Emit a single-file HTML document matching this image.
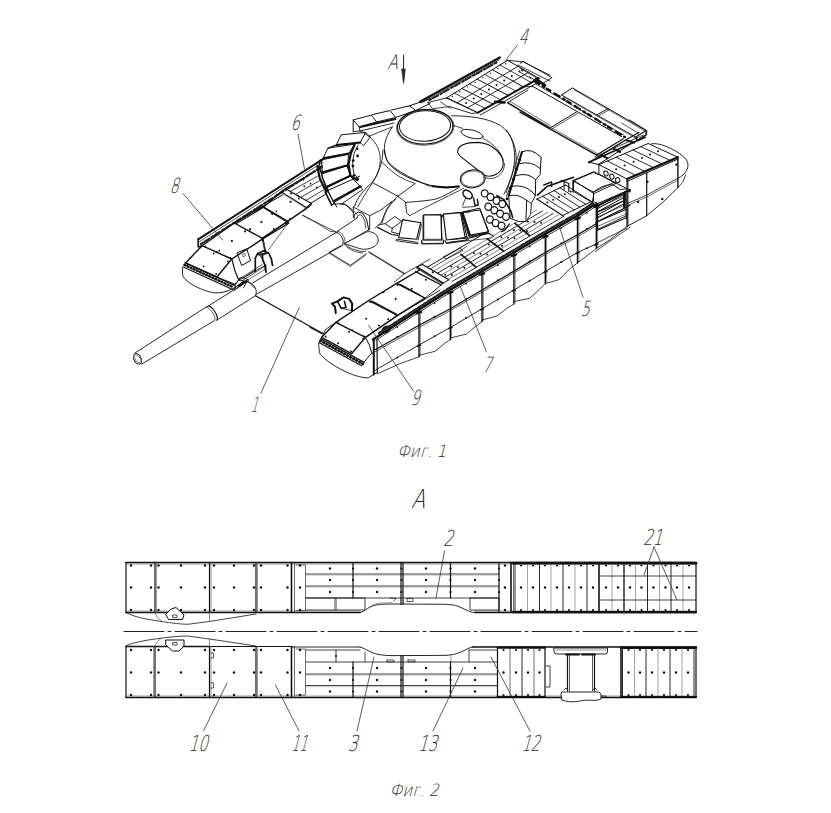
<!DOCTYPE html>
<html><head><meta charset="utf-8"><title>Фиг. 1, Фиг. 2</title>
<style>
html,body{margin:0;padding:0;background:#fff;}
body{width:831px;height:813px;overflow:hidden;}
svg{display:block;}
svg text{font-family:"DejaVu Sans","Liberation Sans",sans-serif;font-weight:200;font-style:normal;}
</style></head><body>
<svg width="831" height="813" viewBox="0 0 831 813" stroke-linecap="round" stroke-linejoin="round">
<rect x="0" y="0" width="831" height="813" fill="#fff"/>
<line x1="124" y1="631.5" x2="697" y2="631.5" stroke="#222" stroke-width="1" stroke-dasharray="40 4 3 4"/>
<polyline points="126,562.5 696,562.5" fill="none" stroke="#111" stroke-width="1.6"/>
<polyline points="126,612.5 360,612.5" fill="none" stroke="#111" stroke-width="1.6"/>
<polyline points="475,612.5 696,612.5" fill="none" stroke="#111" stroke-width="1.6"/>
<polyline points="126,562.5 126,612.5" fill="none" stroke="#111" stroke-width="1.2"/>
<polyline points="696,562.5 696,612.5" fill="none" stroke="#111" stroke-width="1.2"/>
<polyline points="127,564 695,564" fill="none" stroke="#555" stroke-width="0.6"/>
<polyline points="127,611 360,611" fill="none" stroke="#555" stroke-width="0.6"/>
<polyline points="475,611 695,611" fill="none" stroke="#555" stroke-width="0.6"/>
<polyline points="155,562.5 155,612.5" fill="none" stroke="#111" stroke-width="1.2"/>
<polyline points="209.5,562.5 209.5,612.5" fill="none" stroke="#111" stroke-width="1.2"/>
<polyline points="256,562.5 256,612.5" fill="none" stroke="#111" stroke-width="1.2"/>
<polyline points="156.5,562.5 156.5,612.5" fill="none" stroke="#555" stroke-width="0.6"/>
<polyline points="211,562.5 211,612.5" fill="none" stroke="#555" stroke-width="0.6"/>
<polyline points="257.5,562.5 257.5,612.5" fill="none" stroke="#555" stroke-width="0.6"/>
<polyline points="291.5,562.5 291.5,612.5" fill="none" stroke="#111" stroke-width="1.6"/>
<polyline points="294.5,562.5 294.5,612.5" fill="none" stroke="#111" stroke-width="0.6"/>
<polyline points="296,565 305.5,565 305.5,610.5 296,610.5" fill="none" stroke="#111" stroke-width="0.6"/>
<circle cx="131" cy="565.5" r="1.2" fill="#111"/>
<circle cx="151" cy="565.5" r="1.2" fill="#111"/>
<circle cx="158.5" cy="565.5" r="1.2" fill="#111"/>
<circle cx="181" cy="565.5" r="1.2" fill="#111"/>
<circle cx="205" cy="565.5" r="1.2" fill="#111"/>
<circle cx="214" cy="565.5" r="1.2" fill="#111"/>
<circle cx="234" cy="565.5" r="1.2" fill="#111"/>
<circle cx="254" cy="565.5" r="1.2" fill="#111"/>
<circle cx="261" cy="565.5" r="1.2" fill="#111"/>
<circle cx="287.5" cy="565.5" r="1.2" fill="#111"/>
<circle cx="300" cy="565.5" r="1.2" fill="#111"/>
<circle cx="131" cy="587.5" r="1.2" fill="#111"/>
<circle cx="151" cy="587.5" r="1.2" fill="#111"/>
<circle cx="158.5" cy="587.5" r="1.2" fill="#111"/>
<circle cx="181" cy="587.5" r="1.2" fill="#111"/>
<circle cx="205" cy="587.5" r="1.2" fill="#111"/>
<circle cx="214" cy="587.5" r="1.2" fill="#111"/>
<circle cx="234" cy="587.5" r="1.2" fill="#111"/>
<circle cx="254" cy="587.5" r="1.2" fill="#111"/>
<circle cx="261" cy="587.5" r="1.2" fill="#111"/>
<circle cx="287.5" cy="587.5" r="1.2" fill="#111"/>
<circle cx="300" cy="587.5" r="1.2" fill="#111"/>
<circle cx="131" cy="610" r="1.2" fill="#111"/>
<circle cx="151" cy="610" r="1.2" fill="#111"/>
<circle cx="158.5" cy="610" r="1.2" fill="#111"/>
<circle cx="181" cy="610" r="1.2" fill="#111"/>
<circle cx="205" cy="610" r="1.2" fill="#111"/>
<circle cx="214" cy="610" r="1.2" fill="#111"/>
<circle cx="234" cy="610" r="1.2" fill="#111"/>
<circle cx="254" cy="610" r="1.2" fill="#111"/>
<circle cx="261" cy="610" r="1.2" fill="#111"/>
<circle cx="287.5" cy="610" r="1.2" fill="#111"/>
<circle cx="300" cy="610" r="1.2" fill="#111"/>
<polyline points="306,574 499,574" fill="none" stroke="#111" stroke-width="0.8"/>
<polyline points="306,586 499,586" fill="none" stroke="#111" stroke-width="0.8"/>
<polyline points="306,598 499,598" fill="none" stroke="#111" stroke-width="0.8"/>
<polyline points="306,575.2 499,575.2" fill="none" stroke="#888" stroke-width="0.5"/>
<polyline points="306,587.2 499,587.2" fill="none" stroke="#888" stroke-width="0.5"/>
<polyline points="353,562.5 353,598" fill="none" stroke="#111" stroke-width="1.2"/>
<polyline points="450.5,562.5 450.5,598" fill="none" stroke="#111" stroke-width="1.2"/>
<polyline points="401,562.5 401,604.5" fill="none" stroke="#111" stroke-width="1.2"/>
<polyline points="403,562.5 403,604.5" fill="none" stroke="#111" stroke-width="1.2"/>
<circle cx="330" cy="568.5" r="1.2" fill="#111"/>
<circle cx="330" cy="580" r="1.2" fill="#111"/>
<circle cx="330" cy="592" r="1.2" fill="#111"/>
<circle cx="377" cy="568.5" r="1.2" fill="#111"/>
<circle cx="377" cy="580" r="1.2" fill="#111"/>
<circle cx="377" cy="592" r="1.2" fill="#111"/>
<circle cx="426" cy="568.5" r="1.2" fill="#111"/>
<circle cx="426" cy="580" r="1.2" fill="#111"/>
<circle cx="426" cy="592" r="1.2" fill="#111"/>
<circle cx="475" cy="568.5" r="1.2" fill="#111"/>
<circle cx="475" cy="580" r="1.2" fill="#111"/>
<circle cx="475" cy="592" r="1.2" fill="#111"/>
<circle cx="353" cy="568.5" r="1.1" fill="#111"/>
<circle cx="353" cy="580" r="1.1" fill="#111"/>
<circle cx="353" cy="592" r="1.1" fill="#111"/>
<circle cx="401.5" cy="568.5" r="1.1" fill="#111"/>
<circle cx="401.5" cy="580" r="1.1" fill="#111"/>
<circle cx="401.5" cy="592" r="1.1" fill="#111"/>
<circle cx="450.5" cy="568.5" r="1.1" fill="#111"/>
<circle cx="450.5" cy="580" r="1.1" fill="#111"/>
<circle cx="450.5" cy="592" r="1.1" fill="#111"/>
<circle cx="499" cy="568.5" r="1.1" fill="#111"/>
<circle cx="499" cy="580" r="1.1" fill="#111"/>
<circle cx="499" cy="592" r="1.1" fill="#111"/>
<polyline points="306,598 365,598 365,610 306,610" fill="none" stroke="#111" stroke-width="0.8"/>
<polyline points="335,598 335,610" fill="none" stroke="#111" stroke-width="0.8"/>
<polyline points="336.5,598 336.5,610" fill="none" stroke="#555" stroke-width="0.6"/>
<polyline points="470,598 499,598 499,610 470,610 470,598" fill="none" stroke="#111" stroke-width="0.8"/>
<path d="M360,612.5 C366,611 368,606.5 376,605 C382,604 388,604 395,604 L445,604.3 C454,604.5 458,606 463,608.5 C468,611 471,612.5 475,612.5" fill="none" stroke="#111" stroke-width="0.9"/>
<path d="M365,610 C369,608 372,604 380,603 L392,602.7" fill="none" stroke="#555" stroke-width="0.6"/>
<polyline points="407,598.5 413,598.5 413,601.5 407,601.5 407,598.5" fill="none" stroke="#111" stroke-width="0.7"/>
<polyline points="390,598 396,598.5 394,601" fill="none" stroke="#111" stroke-width="0.7"/>
<polyline points="499,562.5 499,612.5" fill="none" stroke="#111" stroke-width="1.2"/>
<polyline points="511,562.5 511,612.5" fill="none" stroke="#111" stroke-width="1.6"/>
<polyline points="513.5,562.5 513.5,612.5" fill="none" stroke="#111" stroke-width="0.6"/>
<circle cx="505" cy="565.5" r="1.2" fill="#111"/>
<circle cx="505" cy="587.5" r="1.2" fill="#111"/>
<circle cx="505" cy="610" r="1.2" fill="#111"/>
<polyline points="515,564 515,611" fill="none" stroke="#111" stroke-width="0.9"/>
<polyline points="527.5,564 527.5,611" fill="none" stroke="#666" stroke-width="0.6"/>
<polyline points="539.5,564 539.5,611" fill="none" stroke="#111" stroke-width="0.9"/>
<polyline points="551,564 551,611" fill="none" stroke="#666" stroke-width="0.6"/>
<polyline points="563,564 563,611" fill="none" stroke="#111" stroke-width="0.9"/>
<polyline points="575,564 575,611" fill="none" stroke="#666" stroke-width="0.6"/>
<polyline points="587,564 587,611" fill="none" stroke="#111" stroke-width="0.9"/>
<polyline points="599,562.5 599,612.5" fill="none" stroke="#111" stroke-width="1.6"/>
<polyline points="513,563.2 696,563.2" fill="none" stroke="#111" stroke-width="2.8"/>
<polyline points="513,612.2 696,612.2" fill="none" stroke="#111" stroke-width="2.2"/>
<circle cx="521" cy="565.5" r="1.1" fill="#111"/>
<circle cx="521" cy="587.5" r="1.2" fill="#111"/>
<circle cx="521" cy="610" r="1.1" fill="#111"/>
<circle cx="533" cy="565.5" r="1.1" fill="#111"/>
<circle cx="533" cy="587.5" r="1.2" fill="#111"/>
<circle cx="533" cy="610" r="1.1" fill="#111"/>
<circle cx="545" cy="565.5" r="1.1" fill="#111"/>
<circle cx="545" cy="587.5" r="1.2" fill="#111"/>
<circle cx="545" cy="610" r="1.1" fill="#111"/>
<circle cx="557" cy="565.5" r="1.1" fill="#111"/>
<circle cx="557" cy="587.5" r="1.2" fill="#111"/>
<circle cx="557" cy="610" r="1.1" fill="#111"/>
<circle cx="569" cy="565.5" r="1.1" fill="#111"/>
<circle cx="569" cy="587.5" r="1.2" fill="#111"/>
<circle cx="569" cy="610" r="1.1" fill="#111"/>
<circle cx="581" cy="565.5" r="1.1" fill="#111"/>
<circle cx="581" cy="587.5" r="1.2" fill="#111"/>
<circle cx="581" cy="610" r="1.1" fill="#111"/>
<circle cx="593" cy="565.5" r="1.1" fill="#111"/>
<circle cx="593" cy="587.5" r="1.2" fill="#111"/>
<circle cx="593" cy="610" r="1.1" fill="#111"/>
<polyline points="612,564 612,611" fill="none" stroke="#666" stroke-width="0.6"/>
<polyline points="624,564 624,611" fill="none" stroke="#111" stroke-width="1.3"/>
<polyline points="635.5,564 635.5,611" fill="none" stroke="#666" stroke-width="0.6"/>
<polyline points="647.5,564 647.5,611" fill="none" stroke="#111" stroke-width="0.9"/>
<polyline points="659.5,564 659.5,611" fill="none" stroke="#666" stroke-width="0.6"/>
<polyline points="671,564 671,611" fill="none" stroke="#111" stroke-width="0.9"/>
<polyline points="683,564 683,611" fill="none" stroke="#666" stroke-width="0.6"/>
<polyline points="600,576 696,576" fill="none" stroke="#111" stroke-width="0.8"/>
<polyline points="600,600 696,600" fill="none" stroke="#111" stroke-width="0.8"/>
<circle cx="606" cy="565.5" r="1.1" fill="#111"/>
<circle cx="606" cy="587.5" r="1.2" fill="#111"/>
<circle cx="606" cy="610" r="1.1" fill="#111"/>
<circle cx="618" cy="565.5" r="1.1" fill="#111"/>
<circle cx="618" cy="587.5" r="1.2" fill="#111"/>
<circle cx="618" cy="610" r="1.1" fill="#111"/>
<circle cx="630" cy="565.5" r="1.1" fill="#111"/>
<circle cx="630" cy="587.5" r="1.2" fill="#111"/>
<circle cx="630" cy="610" r="1.1" fill="#111"/>
<circle cx="641.5" cy="565.5" r="1.1" fill="#111"/>
<circle cx="641.5" cy="587.5" r="1.2" fill="#111"/>
<circle cx="641.5" cy="610" r="1.1" fill="#111"/>
<circle cx="653.5" cy="565.5" r="1.1" fill="#111"/>
<circle cx="653.5" cy="587.5" r="1.2" fill="#111"/>
<circle cx="653.5" cy="610" r="1.1" fill="#111"/>
<circle cx="665.5" cy="565.5" r="1.1" fill="#111"/>
<circle cx="665.5" cy="587.5" r="1.2" fill="#111"/>
<circle cx="665.5" cy="610" r="1.1" fill="#111"/>
<circle cx="677" cy="565.5" r="1.1" fill="#111"/>
<circle cx="677" cy="587.5" r="1.2" fill="#111"/>
<circle cx="677" cy="610" r="1.1" fill="#111"/>
<circle cx="689" cy="565.5" r="1.1" fill="#111"/>
<circle cx="689" cy="587.5" r="1.2" fill="#111"/>
<circle cx="689" cy="610" r="1.1" fill="#111"/>
<path d="M126,612.5 C132,616 142,618.5 155,620.5 C168,622.5 178,624 187.5,624.3 L209.5,621.5 L256,614" fill="none" stroke="#111" stroke-width="0.8"/>
<path d="M155,612.5 C156,616 158,619 161.5,621" fill="none" stroke="#555" stroke-width="0.7"/>
<polyline points="209.5,612.5 209.5,621.5" fill="none" stroke="#555" stroke-width="0.7"/>
<polygon points="166,614 171,609 176,607.5 184,615 182.5,619.5 169,619.5" fill="#fff" stroke="#111" stroke-width="1"/>
<polygon points="173,615 177,615 177,617.5 173,617.5" fill="none" stroke="#111" stroke-width="0.7"/>
<polyline points="126,646.5 209.5,646.5" fill="none" stroke="#111" stroke-width="1.6"/>
<polyline points="209.5,646.5 292,646.5" fill="none" stroke="#111" stroke-width="1.2"/>
<polyline points="292,647 360,647" fill="none" stroke="#111" stroke-width="0.9"/>
<polyline points="472.5,647 696,647" fill="none" stroke="#111" stroke-width="1.6"/>
<polyline points="126,697.5 696,697.5" fill="none" stroke="#111" stroke-width="1.6"/>
<polyline points="126,646.5 126,697.5" fill="none" stroke="#111" stroke-width="1.2"/>
<polyline points="696,646.5 696,697.5" fill="none" stroke="#111" stroke-width="1.2"/>
<polyline points="127,696 695,696" fill="none" stroke="#555" stroke-width="0.6"/>
<polyline points="155,646.5 155,697.5" fill="none" stroke="#111" stroke-width="1.2"/>
<polyline points="209.5,646.5 209.5,697.5" fill="none" stroke="#111" stroke-width="1.2"/>
<polyline points="256,646.5 256,697.5" fill="none" stroke="#111" stroke-width="1.2"/>
<polyline points="153.5,646.5 153.5,697.5" fill="none" stroke="#555" stroke-width="0.6"/>
<polyline points="211,646.5 211,697.5" fill="none" stroke="#555" stroke-width="0.6"/>
<polyline points="257.5,646.5 257.5,697.5" fill="none" stroke="#555" stroke-width="0.6"/>
<polyline points="291.5,646.5 291.5,697.5" fill="none" stroke="#111" stroke-width="1.6"/>
<polyline points="294.5,646.5 294.5,697.5" fill="none" stroke="#111" stroke-width="0.6"/>
<polyline points="296,649 305.5,649 305.5,695 296,695" fill="none" stroke="#111" stroke-width="0.6"/>
<circle cx="131" cy="650" r="1.2" fill="#111"/>
<circle cx="151" cy="650" r="1.2" fill="#111"/>
<circle cx="158.5" cy="650" r="1.2" fill="#111"/>
<circle cx="205" cy="650" r="1.2" fill="#111"/>
<circle cx="214" cy="650" r="1.2" fill="#111"/>
<circle cx="234" cy="650" r="1.2" fill="#111"/>
<circle cx="254" cy="650" r="1.2" fill="#111"/>
<circle cx="261" cy="650" r="1.2" fill="#111"/>
<circle cx="287.5" cy="650" r="1.2" fill="#111"/>
<circle cx="300" cy="650" r="1.2" fill="#111"/>
<circle cx="131" cy="672.5" r="1.2" fill="#111"/>
<circle cx="151" cy="672.5" r="1.2" fill="#111"/>
<circle cx="158.5" cy="672.5" r="1.2" fill="#111"/>
<circle cx="181" cy="672.5" r="1.2" fill="#111"/>
<circle cx="205" cy="672.5" r="1.2" fill="#111"/>
<circle cx="214" cy="672.5" r="1.2" fill="#111"/>
<circle cx="234" cy="672.5" r="1.2" fill="#111"/>
<circle cx="254" cy="672.5" r="1.2" fill="#111"/>
<circle cx="261" cy="672.5" r="1.2" fill="#111"/>
<circle cx="287.5" cy="672.5" r="1.2" fill="#111"/>
<circle cx="300" cy="672.5" r="1.2" fill="#111"/>
<circle cx="131" cy="695" r="1.2" fill="#111"/>
<circle cx="151" cy="695" r="1.2" fill="#111"/>
<circle cx="158.5" cy="695" r="1.2" fill="#111"/>
<circle cx="181" cy="695" r="1.2" fill="#111"/>
<circle cx="205" cy="695" r="1.2" fill="#111"/>
<circle cx="214" cy="695" r="1.2" fill="#111"/>
<circle cx="234" cy="695" r="1.2" fill="#111"/>
<circle cx="254" cy="695" r="1.2" fill="#111"/>
<circle cx="261" cy="695" r="1.2" fill="#111"/>
<circle cx="287.5" cy="695" r="1.2" fill="#111"/>
<circle cx="300" cy="695" r="1.2" fill="#111"/>
<polyline points="211,653 213.5,653 213.5,658 211,658" fill="none" stroke="#111" stroke-width="0.7"/>
<polyline points="211,683 213.5,683 213.5,688 211,688" fill="none" stroke="#111" stroke-width="0.7"/>
<polyline points="306,650 360,650" fill="none" stroke="#111" stroke-width="0.8"/>
<polyline points="306,662 497.5,662" fill="none" stroke="#111" stroke-width="0.8"/>
<polyline points="306,674 497.5,674" fill="none" stroke="#111" stroke-width="0.8"/>
<polyline points="306,685.5 497.5,685.5" fill="none" stroke="#111" stroke-width="0.8"/>
<polyline points="306,675.2 497.5,675.2" fill="none" stroke="#888" stroke-width="0.5"/>
<polyline points="306,686.7 497.5,686.7" fill="none" stroke="#888" stroke-width="0.5"/>
<polyline points="353,662 353,697.5" fill="none" stroke="#111" stroke-width="1.2"/>
<polyline points="450.5,662 450.5,697.5" fill="none" stroke="#111" stroke-width="1.2"/>
<polyline points="401,655.5 401,697.5" fill="none" stroke="#111" stroke-width="1.2"/>
<polyline points="403,655.5 403,697.5" fill="none" stroke="#111" stroke-width="1.2"/>
<polyline points="336,650 336,662" fill="none" stroke="#111" stroke-width="0.8"/>
<polyline points="365,652 365,662" fill="none" stroke="#111" stroke-width="0.7"/>
<circle cx="336" cy="656" r="1.1" fill="#111"/>
<circle cx="330" cy="668" r="1.2" fill="#111"/>
<circle cx="330" cy="680" r="1.2" fill="#111"/>
<circle cx="330" cy="691.5" r="1.2" fill="#111"/>
<circle cx="377" cy="668" r="1.2" fill="#111"/>
<circle cx="377" cy="680" r="1.2" fill="#111"/>
<circle cx="377" cy="691.5" r="1.2" fill="#111"/>
<circle cx="426" cy="668" r="1.2" fill="#111"/>
<circle cx="426" cy="680" r="1.2" fill="#111"/>
<circle cx="426" cy="691.5" r="1.2" fill="#111"/>
<circle cx="475" cy="668" r="1.2" fill="#111"/>
<circle cx="475" cy="680" r="1.2" fill="#111"/>
<circle cx="475" cy="691.5" r="1.2" fill="#111"/>
<circle cx="353" cy="668" r="1.1" fill="#111"/>
<circle cx="353" cy="680" r="1.1" fill="#111"/>
<circle cx="353" cy="691.5" r="1.1" fill="#111"/>
<circle cx="401.5" cy="668" r="1.1" fill="#111"/>
<circle cx="401.5" cy="680" r="1.1" fill="#111"/>
<circle cx="401.5" cy="691.5" r="1.1" fill="#111"/>
<circle cx="450.5" cy="668" r="1.1" fill="#111"/>
<circle cx="450.5" cy="680" r="1.1" fill="#111"/>
<circle cx="450.5" cy="691.5" r="1.1" fill="#111"/>
<path d="M360,647 C364,648 367,650.5 372,652.5 C378,655 384,655.5 392,655.6 L445,655.4 C454,655 459,653 464,650.5 C467,648.8 470,647.5 472.5,647" fill="none" stroke="#111" stroke-width="0.9"/>
<polyline points="387,660 394,660 394,662 387,662 387,660" fill="none" stroke="#111" stroke-width="0.7"/>
<polyline points="408,660 415,660 415,662 408,662 408,660" fill="none" stroke="#111" stroke-width="0.7"/>
<polyline points="469,650 497.5,650" fill="none" stroke="#111" stroke-width="0.8"/>
<polyline points="469,650 469,662" fill="none" stroke="#111" stroke-width="0.8"/>
<polyline points="451,662 451,655" fill="none" stroke="#555" stroke-width="0.6"/>
<polyline points="497.5,647 497.5,697.5" fill="none" stroke="#111" stroke-width="1.2"/>
<polyline points="510,647 510,697.5" fill="none" stroke="#111" stroke-width="0.6"/>
<polyline points="522,647 522,697.5" fill="none" stroke="#111" stroke-width="0.9"/>
<polyline points="534,647 534,697.5" fill="none" stroke="#111" stroke-width="0.6"/>
<polyline points="545,647 545,697.5" fill="none" stroke="#111" stroke-width="1.2"/>
<circle cx="503.5" cy="650" r="1.1" fill="#111"/>
<circle cx="503.5" cy="672.5" r="1.2" fill="#111"/>
<circle cx="503.5" cy="695" r="1.1" fill="#111"/>
<circle cx="516" cy="650" r="1.1" fill="#111"/>
<circle cx="516" cy="672.5" r="1.2" fill="#111"/>
<circle cx="516" cy="695" r="1.1" fill="#111"/>
<circle cx="528" cy="650" r="1.1" fill="#111"/>
<circle cx="528" cy="672.5" r="1.2" fill="#111"/>
<circle cx="528" cy="695" r="1.1" fill="#111"/>
<circle cx="539.5" cy="650" r="1.1" fill="#111"/>
<circle cx="539.5" cy="672.5" r="1.2" fill="#111"/>
<circle cx="539.5" cy="695" r="1.1" fill="#111"/>
<polyline points="546,666 550,666 550,687 546,687" fill="none" stroke="#111" stroke-width="0.8"/>
<path d="M554,648 L607.5,648 L607.5,652 Q607.5,654 605,654 L557,654 Q554,654 554,652 Z" fill="none" stroke="#111" stroke-width="0.9"/>
<polyline points="556,650 606,650" fill="none" stroke="#555" stroke-width="0.6"/>
<polyline points="566,654.5 579,654.5" fill="none" stroke="#111" stroke-width="1.8"/>
<polyline points="582,654.5 595,654.5" fill="none" stroke="#111" stroke-width="1.8"/>
<polyline points="567.5,655 567.5,691" fill="none" stroke="#111" stroke-width="1.2"/>
<polyline points="569.5,655 569.5,691" fill="none" stroke="#111" stroke-width="0.7"/>
<polyline points="592.5,655 592.5,691" fill="none" stroke="#111" stroke-width="0.7"/>
<polyline points="594.5,655 594.5,691" fill="none" stroke="#111" stroke-width="1.2"/>
<path d="M562,692 L599,692 L601,694 L601,699 C596,701.5 590,699.5 583,700.5 C576,702 568,702.5 562,700 L561,695 Z" fill="#fff" stroke="#111" stroke-width="0.9"/>
<polyline points="564,690 566,688 568,690" fill="none" stroke="#111" stroke-width="0.8"/>
<polyline points="593,690 595,688 597,690" fill="none" stroke="#111" stroke-width="0.8"/>
<polyline points="601,696 606,696 606,697.5" fill="none" stroke="#111" stroke-width="0.8"/>
<polyline points="497.5,647.6 545,647.6" fill="none" stroke="#111" stroke-width="2.2"/>
<polyline points="621,647.8 696,647.8" fill="none" stroke="#111" stroke-width="2.4"/>
<polyline points="497.5,697 545,697" fill="none" stroke="#111" stroke-width="2.2"/>
<polyline points="621,697 696,697" fill="none" stroke="#111" stroke-width="2.2"/>
<polyline points="621,647 621,697.5" fill="none" stroke="#111" stroke-width="1.6"/>
<polyline points="622.5,648.5 622.5,696" fill="none" stroke="#111" stroke-width="0.9"/>
<polyline points="634.5,648.5 634.5,696" fill="none" stroke="#666" stroke-width="0.6"/>
<polyline points="646,648.5 646,696" fill="none" stroke="#111" stroke-width="0.9"/>
<polyline points="658,648.5 658,696" fill="none" stroke="#666" stroke-width="0.6"/>
<polyline points="670,648.5 670,696" fill="none" stroke="#111" stroke-width="0.9"/>
<polyline points="682,648.5 682,696" fill="none" stroke="#666" stroke-width="0.6"/>
<polyline points="694,648.5 694,696" fill="none" stroke="#111" stroke-width="0.9"/>
<circle cx="628.5" cy="650" r="1.1" fill="#111"/>
<circle cx="628.5" cy="672.5" r="1.2" fill="#111"/>
<circle cx="628.5" cy="695" r="1.1" fill="#111"/>
<circle cx="640" cy="650" r="1.1" fill="#111"/>
<circle cx="640" cy="672.5" r="1.2" fill="#111"/>
<circle cx="640" cy="695" r="1.1" fill="#111"/>
<circle cx="652" cy="650" r="1.1" fill="#111"/>
<circle cx="652" cy="672.5" r="1.2" fill="#111"/>
<circle cx="652" cy="695" r="1.1" fill="#111"/>
<circle cx="664" cy="650" r="1.1" fill="#111"/>
<circle cx="664" cy="672.5" r="1.2" fill="#111"/>
<circle cx="664" cy="695" r="1.1" fill="#111"/>
<circle cx="676" cy="650" r="1.1" fill="#111"/>
<circle cx="676" cy="672.5" r="1.2" fill="#111"/>
<circle cx="676" cy="695" r="1.1" fill="#111"/>
<circle cx="688" cy="650" r="1.1" fill="#111"/>
<circle cx="688" cy="672.5" r="1.2" fill="#111"/>
<circle cx="688" cy="695" r="1.1" fill="#111"/>
<path d="M126,645.5 C134,642.5 144,640.5 155,639 C166,637.5 178,636 187.5,636 L209.5,639 L256,646" fill="none" stroke="#111" stroke-width="0.8"/>
<path d="M155,646 C156,643 158,640.5 161,638.5" fill="none" stroke="#555" stroke-width="0.7"/>
<polyline points="209.5,639 209.5,646" fill="none" stroke="#555" stroke-width="0.7"/>
<polygon points="166,640 184,640 184,646 179,651 172.5,651 166,645" fill="#fff" stroke="#111" stroke-width="1"/>
<polygon points="173,642.5 177,642.5 177,645 173,645" fill="none" stroke="#111" stroke-width="0.7"/>
<ellipse cx="137.5" cy="358.8" rx="3.6" ry="5.6" transform="rotate(-28 137.5 358.8)" fill="none" stroke="#111" stroke-width="0.9"/>
<ellipse cx="137.7" cy="358.7" rx="2.4" ry="4.2" transform="rotate(-28 137.7 358.7)" fill="none" stroke="#444" stroke-width="0.6"/>
<polyline points="135,353 206.2,307" fill="none" stroke="#111" stroke-width="0.9"/>
<polyline points="141.5,364.2 213.8,321" fill="none" stroke="#111" stroke-width="0.9"/>
<path d="M207.6,306.4 A2.9 7.7 -31.8 0 1 216.8,320.2" fill="none" stroke="#111" stroke-width="1.1"/>
<path d="M206.2,307.4 A2.9 7.7 -31.8 0 1 214.2,321.4" fill="none" stroke="#111" stroke-width="0.7"/>
<polyline points="207.6,306.4 247,281.8" fill="none" stroke="#111" stroke-width="0.9"/>
<polyline points="216.8,320.2 255.5,295.7" fill="none" stroke="#111" stroke-width="0.9"/>
<path d="M247,281.8 C253.5,282 258.5,290 255.5,295.7" fill="none" stroke="#111" stroke-width="0.9"/>
<polyline points="252.6,283 336,232.6" fill="none" stroke="#111" stroke-width="0.9"/>
<polyline points="256.6,294.2 342.3,245.6" fill="none" stroke="#111" stroke-width="0.9"/>
<path d="M336,232.4 C342,234 345,241 342.3,245.6" fill="none" stroke="#111" stroke-width="0.9"/>
<path d="M337.8,231.3 C343.5,233 346.8,240 344,244.6" fill="none" stroke="#111" stroke-width="0.6"/>
<polyline points="255.5,295.7 323.6,334" fill="none" stroke="#111" stroke-width="1.3"/>
<polyline points="337.5,231.3 357.1,218" fill="none" stroke="#111" stroke-width="0.9"/>
<polyline points="345.4,243.4 368.8,229.7" fill="none" stroke="#111" stroke-width="0.9"/>
<path d="M354.0,218.3 L354.4,214.7 L358.2,212.1 L362.6,213.2 L366.5,219.1 L368.8,230.1" fill="none" stroke="#111" stroke-width="1.0"/>
<polyline points="357.1,218 357.6,215.7 360.2,214.7 362.9,216.8 364.9,221.5 365.7,228.2" fill="none" stroke="#111" stroke-width="0.8"/>
<path d="M344.6,243.4 L366.5,231.9 C373.5,230.4 379.8,236.3 377.9,242.3 C375.9,248.1 365.7,250.4 360.2,248.8 Z" fill="#fff" stroke="#111" stroke-width="0.9"/>
<polyline points="344.6,244.5 351.6,248.8 361.8,251.7 365.7,251.2" fill="none" stroke="#111" stroke-width="0.8"/>
<polyline points="346.9,247.3 354,251.2 362.6,253.2" fill="none" stroke="#111" stroke-width="0.7"/>
<polyline points="340.7,245.7 328.9,252.3 350.4,265.3 366.5,253.5" fill="none" stroke="#111" stroke-width="0.8"/>
<polyline points="329.7,253.5 350.4,266.4 365.7,255.1" fill="none" stroke="#111" stroke-width="0.6"/>
<polyline points="302.3,215.2 335.7,231.9" fill="none" stroke="#111" stroke-width="0.8"/>
<polyline points="368.8,252.3 404,273.9" fill="none" stroke="#111" stroke-width="0.8"/>
<polyline points="404,273.9 430,259" fill="none" stroke="#111" stroke-width="0.8"/>
<polyline points="404,273.9 393.9,282.5" fill="none" stroke="#111" stroke-width="0.8"/>
<polyline points="198.2,239.3 322.5,159.3" fill="none" stroke="#111" stroke-width="2"/>
<polyline points="199,242 323,162" fill="none" stroke="#111" stroke-width="0.7"/>
<line x1="201" y1="244" x2="322" y2="166.5" stroke="#222" stroke-width="2.2" stroke-dasharray="2 2 3 1.5 1.5 2.5"/>
<polyline points="198.2,239.1 198.2,247 202.1,245.7" fill="none" stroke="#111" stroke-width="1.6"/>
<polygon points="202.1,245.7 231.8,259 216.9,277 185.6,262.9" fill="none" stroke="#111" stroke-width="1.4"/>
<polyline points="202.1,245.7 234.1,223 263.1,238.7 231.8,259" fill="none" stroke="#111" stroke-width="1.4"/>
<polyline points="234.1,223 262.3,206.6 288.9,223 263.1,238.7" fill="none" stroke="#111" stroke-width="1.4"/>
<polyline points="262.3,206.6 282.6,194.9" fill="none" stroke="#111" stroke-width="1"/>
<polyline points="231.8,259 234.9,270.7 238.8,280.1" fill="none" stroke="#111" stroke-width="1.2"/>
<polyline points="263.1,238.7 264.6,245.7 265.7,251.2" fill="none" stroke="#111" stroke-width="1"/>
<polyline points="238.8,280.1 243.5,277.8 254.5,270.4" fill="none" stroke="#111" stroke-width="0.9"/>
<polyline points="216.9,277 235.7,284.5" fill="none" stroke="#111" stroke-width="0.9"/>
<path d="M182.5,267.6 L182.5,274.6 C184.1,281.7 199.7,289.5 209.9,292.0 C221.6,295.0 232.6,290.3 243.5,281.7" fill="none" stroke="#111" stroke-width="0.9"/>
<polyline points="184.9,262.9 234.1,285.1" fill="none" stroke="#111" stroke-width="1.4"/>
<polyline points="183.3,267 232.6,289.5" fill="none" stroke="#111" stroke-width="1.2"/>
<line x1="184.4" y1="264.9" x2="233.4" y2="287.3" stroke="#111" stroke-width="2.4" stroke-dasharray="1 2.4"/>
<polyline points="234.1,285.1 238.8,280.1" fill="none" stroke="#111" stroke-width="1"/>
<polyline points="232.6,289.5 239.6,284 243.5,281.7" fill="none" stroke="#111" stroke-width="0.9"/>
<polygon points="237.3,252.7 246.7,248.8 250.6,260.6 242,265.3" fill="none" stroke="#111" stroke-width="1"/>
<polygon points="242.7,254.3 244.8,253.5 245.4,255.9 243.5,256.7" fill="none" stroke="#111" stroke-width="0.6"/>
<polyline points="255.3,271.5 255.3,258.2 257.6,253.5 263.9,250.7 268.9,253.5 271.4,259 272.5,265.3" fill="none" stroke="#111" stroke-width="1.7"/>
<polyline points="260.7,256.7 263.9,261.4 265.4,271.5" fill="none" stroke="#111" stroke-width="1"/>
<polyline points="257.6,253.5 261.5,256.3 266.2,253.5" fill="none" stroke="#111" stroke-width="0.8"/>
<polyline points="238.8,280.1 248.2,281.7 254.5,287.9" fill="none" stroke="#111" stroke-width="0.9"/>
<polyline points="243.5,277.8 256.8,270 265.4,265.3" fill="none" stroke="#111" stroke-width="0.8"/>
<polyline points="246.7,281.7 243.5,287.9" fill="none" stroke="#111" stroke-width="0.9"/>
<circle cx="205.2" cy="246.5" r="0.9" fill="#111"/>
<circle cx="216.9" cy="252" r="0.9" fill="#111"/>
<circle cx="230.2" cy="257.9" r="0.9" fill="#111"/>
<circle cx="190.3" cy="258.2" r="0.9" fill="#111"/>
<circle cx="203.6" cy="266.4" r="0.9" fill="#111"/>
<circle cx="216.2" cy="273.9" r="0.9" fill="#111"/>
<circle cx="227.9" cy="261.4" r="0.9" fill="#111"/>
<circle cx="213.8" cy="253.5" r="0.9" fill="#111"/>
<circle cx="219.3" cy="250.7" r="0.9" fill="#111"/>
<circle cx="231.8" cy="241" r="0.9" fill="#111"/>
<circle cx="245.1" cy="231.3" r="0.9" fill="#111"/>
<circle cx="249.8" cy="229.7" r="0.9" fill="#111"/>
<circle cx="261.5" cy="221.9" r="0.9" fill="#111"/>
<circle cx="274" cy="229.7" r="0.9" fill="#111"/>
<circle cx="286.6" cy="223.5" r="0.9" fill="#111"/>
<circle cx="271.7" cy="213.2" r="0.9" fill="#111"/>
<circle cx="276.4" cy="211.3" r="0.9" fill="#111"/>
<circle cx="290.5" cy="201.9" r="0.9" fill="#111"/>
<polyline points="236.3,223.5 263.6,207.1 283.2,189.9" fill="none" stroke="#111" stroke-width="1.3"/>
<polyline points="263.6,207.1 287.9,221.2" fill="none" stroke="#111" stroke-width="1.3"/>
<polyline points="262.1,238.4 287.9,221.2 308.2,207.1 311.4,204" fill="none" stroke="#111" stroke-width="1.5"/>
<polyline points="262.1,238.4 263.6,245.4 265.2,253.3" fill="none" stroke="#111" stroke-width="1"/>
<polyline points="281.3,191.9 306.3,207.5" fill="none" stroke="#111" stroke-width="1.1"/>
<polyline points="285.2,188.5 311,203.2" fill="none" stroke="#111" stroke-width="1.1"/>
<polyline points="281.3,191.9 285.2,188.5" fill="none" stroke="#111" stroke-width="0.9"/>
<polyline points="306.3,207.5 311,203.2" fill="none" stroke="#111" stroke-width="0.9"/>
<polyline points="282.1,193.5 306.6,208.8" fill="none" stroke="#555" stroke-width="0.6"/>
<circle cx="291" cy="193.5" r="1.0" fill="#111"/>
<circle cx="298.8" cy="198.5" r="1.0" fill="#111"/>
<polyline points="290.4,191.4 317.3,176.3" fill="none" stroke="#111" stroke-width="0.8"/>
<polyline points="295.5,194.4 319.6,180.6" fill="none" stroke="#111" stroke-width="0.8"/>
<polyline points="300.7,197.4 322.3,184.9" fill="none" stroke="#111" stroke-width="0.8"/>
<polyline points="305.9,200.4 325.1,189.1" fill="none" stroke="#111" stroke-width="0.8"/>
<polyline points="285.2,188.5 315.7,171.3" fill="none" stroke="#111" stroke-width="1"/>
<polyline points="311,203.2 326.7,193.5" fill="none" stroke="#111" stroke-width="1"/>
<polyline points="317.3,166.1 319.6,177.8 323.5,186.4 326.7,191.9" fill="none" stroke="#111" stroke-width="2.2"/>
<polyline points="320.1,166.1 322.3,177.5 325.9,185.6 328.2,190.3" fill="none" stroke="#111" stroke-width="1.2"/>
<polyline points="325.1,191.9 331.7,205.2" fill="none" stroke="#111" stroke-width="1.6"/>
<polyline points="327.9,190.7 334.2,203.2" fill="none" stroke="#111" stroke-width="1"/>
<polyline points="331.7,205.2 334.2,203.2" fill="none" stroke="#111" stroke-width="1"/>
<polyline points="332.9,204.1 343.9,203.6 352.5,209.9 356.4,214.1" fill="none" stroke="#111" stroke-width="0.9"/>
<polyline points="328.2,190.3 359.5,176.3" fill="none" stroke="#111" stroke-width="1"/>
<polyline points="334.5,202.1 361.9,186.4" fill="none" stroke="#111" stroke-width="0.9"/>
<circle cx="276.9" cy="194.6" r="0.9" fill="#111"/>
<circle cx="290.7" cy="201.6" r="0.9" fill="#111"/>
<circle cx="272.2" cy="214.1" r="0.9" fill="#111"/>
<circle cx="261.3" cy="222" r="0.9" fill="#111"/>
<circle cx="250.3" cy="229" r="0.9" fill="#111"/>
<circle cx="273.8" cy="229" r="0.9" fill="#111"/>
<circle cx="290.2" cy="218.8" r="0.9" fill="#111"/>
<circle cx="305.1" cy="209.4" r="0.9" fill="#111"/>
<circle cx="298.1" cy="195.7" r="0.9" fill="#111"/>
<circle cx="304.3" cy="186.3" r="0.9" fill="#111"/>
<circle cx="310.6" cy="183.6" r="0.9" fill="#111"/>
<circle cx="316.8" cy="187.5" r="0.9" fill="#111"/>
<circle cx="303.5" cy="179.7" r="0.9" fill="#111"/>
<circle cx="244.9" cy="231.4" r="0.9" fill="#111"/>
<circle cx="231.9" cy="240.7" r="0.9" fill="#111"/>
<circle cx="285.5" cy="222.7" r="0.9" fill="#111"/>
<polyline points="268.3,250.1 287.9,223.5" fill="none" stroke="#111" stroke-width="0.6"/>
<polyline points="303.5,215.7 317.6,223.5 330.1,231.4 337.9,232.1" fill="none" stroke="#111" stroke-width="0.7"/>
<polyline points="353.2,131.6 353.2,119.9 371.2,115.2 376.7,121.9 359.1,126.9 353.2,119.9" fill="none" stroke="#111" stroke-width="1"/>
<polyline points="359.1,126.9 360.2,131.6" fill="none" stroke="#111" stroke-width="0.9"/>
<polyline points="372,114.7 390,110.5 395.7,117.5 376.7,121.9" fill="none" stroke="#111" stroke-width="1"/>
<polyline points="391.5,110 409.5,105.8 415.8,110.5 396.2,117.2" fill="none" stroke="#111" stroke-width="1"/>
<polyline points="409.5,105.8 430,98.8" fill="none" stroke="#111" stroke-width="1"/>
<polyline points="415.8,110.5 430,103.5" fill="none" stroke="#111" stroke-width="1"/>
<polyline points="360.2,126.9 395.4,119.1" fill="none" stroke="#111" stroke-width="2"/>
<polyline points="361,130.8 393.9,123" fill="none" stroke="#111" stroke-width="0.9"/>
<polyline points="353.2,131.6 361,130.8 368.8,136.3" fill="none" stroke="#111" stroke-width="0.9"/>
<polyline points="368.8,136.3 392.3,126.9" fill="none" stroke="#111" stroke-width="0.8"/>
<polygon points="341.5,134.8 365.7,132.4 360.2,142.6 336.8,144.9" fill="none" stroke="#111" stroke-width="1"/>
<polyline points="365.7,132.4 370.4,137.1 363.4,145.7 360.2,142.6" fill="none" stroke="#111" stroke-width="0.9"/>
<polygon points="328.2,148.1 354.8,144.1 348.8,153.5 323.5,158.2" fill="none" stroke="#111" stroke-width="1"/>
<polyline points="336.8,144.9 328.2,148.1" fill="none" stroke="#111" stroke-width="1.4"/>
<polygon points="321.9,159.8 348.5,154.3 347.7,165.3 322.7,172.3" fill="none" stroke="#111" stroke-width="1"/>
<polyline points="323.5,158.2 321.9,159.8" fill="none" stroke="#111" stroke-width="1.4"/>
<polygon points="321.9,173.9 346.9,165.7 350.4,175.7 325.8,187.2" fill="none" stroke="#111" stroke-width="1"/>
<polyline points="322.7,172.3 321.9,173.9" fill="none" stroke="#111" stroke-width="1.2"/>
<polygon points="326.6,187.9 350.4,176.2 360.2,186.4 333.6,201.2" fill="none" stroke="#111" stroke-width="1"/>
<polyline points="325.8,187.2 326.6,187.9" fill="none" stroke="#111" stroke-width="1.2"/>
<polyline points="333.6,201.2 336.8,207" fill="none" stroke="#111" stroke-width="1"/>
<polyline points="360.2,186.4 362.6,189.5 342.2,203.6" fill="none" stroke="#111" stroke-width="0.9"/>
<polyline points="336.8,144.9 360.2,142.6" fill="none" stroke="#111" stroke-width="2"/>
<polyline points="323.5,158.2 348.8,153.5" fill="none" stroke="#111" stroke-width="2"/>
<polyline points="322.7,172.3 347.7,165.3" fill="none" stroke="#111" stroke-width="2"/>
<polyline points="325.8,187.2 350.4,175.7" fill="none" stroke="#111" stroke-width="2"/>
<polyline points="333.6,201.2 360.2,186.4" fill="none" stroke="#111" stroke-width="2"/>
<polyline points="354.8,144.1 350.8,153.5 348.5,164.5 350.4,175.7 357.1,180.1" fill="none" stroke="#111" stroke-width="2.2"/>
<polyline points="358.2,144.9 354,153.5 352.4,164.5 354,173.9 358.7,178.6" fill="none" stroke="#111" stroke-width="0.9"/>
<circle cx="357.1" cy="148.8" r="1.4" fill="#111"/>
<circle cx="357.6" cy="155.9" r="1.4" fill="#111"/>
<circle cx="353.2" cy="160.6" r="1.4" fill="#111"/>
<circle cx="352.9" cy="166" r="1.4" fill="#111"/>
<circle cx="354" cy="175.4" r="1.4" fill="#111"/>
<circle cx="357.6" cy="179.3" r="1.4" fill="#111"/>
<path d="M392.3,126.9 C384.5,137.9 381.4,150.4 387.6,161.4 C397.0,172.3 415.8,180.1 430.0,186.4" fill="none" stroke="#111" stroke-width="0.9"/>
<path d="M368.8,136.3 C381.4,145.7 382.9,161.4 376.7,175.4 C372.0,184.8 364.1,194.2 357.9,207.0" fill="none" stroke="#111" stroke-width="0.8"/>
<polyline points="320.3,159.8 318.8,167.6 321.9,173.9" fill="none" stroke="#111" stroke-width="1.4"/>
<ellipse cx="425" cy="126" rx="25.6" ry="15.2" transform="rotate(-3 425 126)" fill="none" stroke="#111" stroke-width="1.0"/>
<ellipse cx="425.2" cy="126.8" rx="27.8" ry="17.2" transform="rotate(-3 425.2 126.8)" fill="none" stroke="#111" stroke-width="1.2"/>
<ellipse cx="425.3" cy="127.2" rx="28.8" ry="18" transform="rotate(-3 425.3 127.2)" fill="none" stroke="#111" stroke-width="0.6"/>
<path d="M457.6,151.8 C457.9,144.8 467.3,142.4 478.2,142.4 C492.3,143.2 503.3,154.1 503.3,163.5 C502.5,172.9 492.3,178.4 484.5,175.3 L462.6,158.1 C459.4,155.7 457.6,154.1 457.6,151.8" fill="none" stroke="#111" stroke-width="1.1"/>
<path d="M485.3,177.6 C493.9,181.5 504.8,174.5 504.5,163.5" fill="none" stroke="#111" stroke-width="0.8"/>
<ellipse cx="472" cy="134.1" rx="11.3" ry="4" transform="rotate(14 472 134.1)" fill="none" stroke="#111" stroke-width="0.9"/>
<ellipse cx="472.7" cy="178.9" rx="12.5" ry="9" transform="rotate(-5 472.7 178.9)" fill="#fff" stroke="#111" stroke-width="1.0"/>
<ellipse cx="472.7" cy="178.9" rx="11.5" ry="8" transform="rotate(-5 472.7 178.9)" fill="none" stroke="#111" stroke-width="0.6"/>
<path d="M451.6,115.8 C470.4,115.8 487.6,118.2 500.1,125.2 C512.6,133.8 517.3,149.4 516.1,163.5 C515.5,174.5 511.1,185.4 506.4,196.4" fill="none" stroke="#111" stroke-width="0.9"/>
<polyline points="452.4,125.2 462.6,128.3" fill="none" stroke="#111" stroke-width="0.8"/>
<path d="M482.9,138.5 C493.9,143.2 501.7,152.6 503.3,160.4" fill="none" stroke="#111" stroke-width="0.8"/>
<ellipse cx="467.6" cy="194.5" rx="5.2" ry="3.6" transform="rotate(40 467.6 194.5)" fill="none" stroke="#111" stroke-width="1.6"/>
<polyline points="473.5,197.9 475.1,205.8 478.2,205 477.4,199.5" fill="none" stroke="#111" stroke-width="1.4"/>
<polyline points="462.6,205.8 465.7,197.9" fill="none" stroke="#111" stroke-width="0.8"/>
<polyline points="462.6,207.3 475.1,206.6" fill="none" stroke="#111" stroke-width="0.8"/>
<polyline points="420,101.8 499.8,57.5" fill="none" stroke="#111" stroke-width="2.2"/>
<polyline points="421.6,102.9 499,60" fill="none" stroke="#111" stroke-width="0.8"/>
<line x1="429.4" y1="100.2" x2="498.2" y2="61.6" stroke="#222" stroke-width="2" stroke-dasharray="2 2 3 1.5 1.5 2.5"/>
<polyline points="446.6,97.9 507.6,60.3" fill="none" stroke="#111" stroke-width="1"/>
<polyline points="477.9,112.7 538.9,78.3" fill="none" stroke="#111" stroke-width="2"/>
<polyline points="446.6,97.9 477.9,112.7" fill="none" stroke="#111" stroke-width="1.2"/>
<polyline points="507.6,60.3 538.9,78.3" fill="none" stroke="#111" stroke-width="1"/>
<polyline points="480.2,115.1 540.5,81" fill="none" stroke="#111" stroke-width="0.9"/>
<polyline points="457,102.8 518,66.3" fill="none" stroke="#111" stroke-width="0.9"/>
<polyline points="467.5,107.8 528.5,72.3" fill="none" stroke="#111" stroke-width="0.9"/>
<polyline points="454.2,93.2 485.5,108.4" fill="none" stroke="#111" stroke-width="0.8"/>
<polyline points="461.8,88.5 493.1,104.1" fill="none" stroke="#111" stroke-width="1"/>
<polyline points="469.5,83.8 500.8,99.8" fill="none" stroke="#111" stroke-width="0.8"/>
<polyline points="477.1,79.1 508.4,95.5" fill="none" stroke="#111" stroke-width="1"/>
<polyline points="484.7,74.4 516,91.2" fill="none" stroke="#111" stroke-width="0.8"/>
<polyline points="492.4,69.7 523.6,86.9" fill="none" stroke="#111" stroke-width="1"/>
<polyline points="500,65 531.3,82.6" fill="none" stroke="#111" stroke-width="0.8"/>
<circle cx="466.1" cy="103.1" r="1.0" fill="#111"/>
<circle cx="452.3" cy="96.4" r="0.7" fill="#111"/>
<circle cx="473.7" cy="98.6" r="1.0" fill="#111"/>
<circle cx="459.9" cy="91.8" r="0.7" fill="#111"/>
<circle cx="481.3" cy="94.1" r="1.0" fill="#111"/>
<circle cx="467.5" cy="87.1" r="0.7" fill="#111"/>
<circle cx="488.9" cy="89.6" r="1.0" fill="#111"/>
<circle cx="475.2" cy="82.4" r="0.7" fill="#111"/>
<circle cx="496.6" cy="85.1" r="1.0" fill="#111"/>
<circle cx="482.8" cy="77.8" r="0.7" fill="#111"/>
<circle cx="504.2" cy="80.6" r="1.0" fill="#111"/>
<circle cx="490.4" cy="73.1" r="0.7" fill="#111"/>
<circle cx="511.8" cy="76.1" r="1.0" fill="#111"/>
<circle cx="498" cy="68.4" r="0.7" fill="#111"/>
<circle cx="519.4" cy="71.6" r="1.0" fill="#111"/>
<circle cx="505.7" cy="63.8" r="0.7" fill="#111"/>
<polyline points="427.8,102.6 446.6,97.9" fill="none" stroke="#111" stroke-width="0.9"/>
<polyline points="427.8,102.6 432.5,108.8 449.7,106.5" fill="none" stroke="#111" stroke-width="0.8"/>
<polyline points="449.7,106.5 471.6,113.5 477.9,112.7" fill="none" stroke="#111" stroke-width="0.9"/>
<polyline points="440.3,101.8 451.3,108.8" fill="none" stroke="#111" stroke-width="0.7"/>
<polyline points="507.6,60.3 523.3,61.9 550,75.2" fill="none" stroke="#111" stroke-width="0.9"/>
<polyline points="517.8,65 550,81" fill="none" stroke="#111" stroke-width="0.8"/>
<polyline points="495.1,101.8 504.5,102.6" fill="none" stroke="#111" stroke-width="2.5"/>
<polyline points="535.8,79.1 545.2,85.4" fill="none" stroke="#111" stroke-width="2.5"/>
<polyline points="507.6,102.6 550,128.4" fill="none" stroke="#111" stroke-width="1.4"/>
<polyline points="507.6,102.6 527.9,90.1" fill="none" stroke="#111" stroke-width="0.9"/>
<polyline points="510,101.3 550,125.3" fill="none" stroke="#111" stroke-width="0.6"/>
<polyline points="520,63.6 523.1,61.3 552.1,77.7 541.9,83.9 529.4,76.9" fill="none" stroke="#111" stroke-width="0.9"/>
<polyline points="520,72.2 531,78.5" fill="none" stroke="#111" stroke-width="0.8"/>
<polyline points="520,68.3 538.8,79.2" fill="none" stroke="#111" stroke-width="0.7"/>
<circle cx="522.3" cy="70.6" r="1.0" fill="#111"/>
<polyline points="520,112.1 596.7,155.1" fill="none" stroke="#111" stroke-width="1.4"/>
<polyline points="521.6,111 597.9,153.9" fill="none" stroke="#111" stroke-width="0.6"/>
<polyline points="532.5,86.3 621.7,136.7" fill="none" stroke="#111" stroke-width="1"/>
<polyline points="550.5,127.7 576.3,112.1" fill="none" stroke="#111" stroke-width="1"/>
<polyline points="552.1,128.8 577.9,113.2" fill="none" stroke="#111" stroke-width="0.7"/>
<polyline points="596.7,155.1 623.3,138.7" fill="none" stroke="#111" stroke-width="1.2"/>
<polyline points="598.2,157 624.8,140.7" fill="none" stroke="#111" stroke-width="0.8"/>
<polyline points="520,87.1 532.5,86.3" fill="none" stroke="#111" stroke-width="0.8"/>
<line x1="534.1" y1="80.8" x2="624.8" y2="137.1" stroke="#111" stroke-width="2.4" stroke-dasharray="3 2 1 4 2 3 4 5"/>
<polyline points="535.6,83.9 623.3,134.8" fill="none" stroke="#111" stroke-width="0.8"/>
<polyline points="561.5,94.9 572.4,87.9 645.9,130.4 635.8,137.1" fill="none" stroke="#111" stroke-width="1"/>
<polyline points="561.5,94.9 635.8,137.1" fill="none" stroke="#111" stroke-width="0.9"/>
<polyline points="596.7,114.9 608.4,108.5" fill="none" stroke="#111" stroke-width="1"/>
<polyline points="598.2,116 610,109.4" fill="none" stroke="#111" stroke-width="0.7"/>
<polyline points="645.9,130.4 645.9,134.8 636.6,140.7 635.8,137.1" fill="none" stroke="#111" stroke-width="1"/>
<polyline points="574,89.7 645.2,131.3" fill="none" stroke="#111" stroke-width="0.6"/>
<polyline points="563,96.5 636.6,138.7" fill="none" stroke="#111" stroke-width="0.6"/>
<polyline points="588.8,162.9 598.2,156.7 626.4,139.5 638.9,132.4" fill="none" stroke="#111" stroke-width="1.2"/>
<polyline points="598.2,164.5 627.9,145.7 643.6,136.4" fill="none" stroke="#111" stroke-width="1"/>
<polyline points="601.4,155.1 607.6,158.3" fill="none" stroke="#111" stroke-width="2"/>
<polyline points="613.9,148.9 620.1,152" fill="none" stroke="#111" stroke-width="2"/>
<polyline points="626.4,140.3 634.2,142.6" fill="none" stroke="#111" stroke-width="2"/>
<polyline points="629.4,120 646.7,130.6 646.7,134.9 637.3,140.3 636.5,136.4" fill="none" stroke="#111" stroke-width="1"/>
<polyline points="636.5,136.4 646.7,130.6" fill="none" stroke="#111" stroke-width="0.8"/>
<polyline points="621.6,123.1 638.8,133.3" fill="none" stroke="#111" stroke-width="0.7"/>
<polyline points="598.9,164.6 648.2,143.5" fill="none" stroke="#111" stroke-width="1"/>
<polyline points="598.9,164.6 627.1,179.1" fill="none" stroke="#111" stroke-width="1"/>
<polyline points="648.2,143.5 677.9,157.2" fill="none" stroke="#111" stroke-width="1"/>
<polyline points="627.1,179.1 677.9,157.2" fill="none" stroke="#111" stroke-width="2.2"/>
<polyline points="627.1,181.3 677.9,159.1" fill="none" stroke="#111" stroke-width="1"/>
<polyline points="607.3,161 635.7,175.4" fill="none" stroke="#111" stroke-width="0.9"/>
<polyline points="616.2,157.2 644.9,171.5" fill="none" stroke="#111" stroke-width="0.9"/>
<polyline points="624.6,153.6 653.5,167.7" fill="none" stroke="#111" stroke-width="0.9"/>
<polyline points="632.9,150 662.2,164" fill="none" stroke="#111" stroke-width="0.9"/>
<polyline points="640.8,146.6 670.3,160.5" fill="none" stroke="#111" stroke-width="0.9"/>
<circle cx="616.1" cy="169.2" r="1.0" fill="#111"/>
<circle cx="624.6" cy="165.6" r="1.0" fill="#111"/>
<circle cx="633.6" cy="161.7" r="1.0" fill="#111"/>
<circle cx="642.1" cy="158" r="1.0" fill="#111"/>
<circle cx="650.1" cy="154.6" r="1.0" fill="#111"/>
<circle cx="658.1" cy="151.2" r="1.0" fill="#111"/>
<polyline points="588.8,162.2 601.3,156.8 645.1,137.2" fill="none" stroke="#111" stroke-width="1.6"/>
<polyline points="595,156.8 643.5,134.9" fill="none" stroke="#111" stroke-width="0.8"/>
<polyline points="588.8,162.2 598.9,164.6" fill="none" stroke="#111" stroke-width="1"/>
<path d="M651.4,143.8 C660.7,141.9 679.5,151.3 686.6,159.9 C690.5,166.9 685.8,174.8 677.9,178.2" fill="none" stroke="#111" stroke-width="0.9"/>
<polyline points="677.9,187.3 682.6,182.6 685.8,174.8" fill="none" stroke="#111" stroke-width="0.8"/>
<polyline points="627.1,180.2 627.1,226.4" fill="none" stroke="#111" stroke-width="1.4"/>
<polyline points="646.7,173.2 646.7,215.7" fill="none" stroke="#111" stroke-width="1.2"/>
<polyline points="677.9,157.5 677.9,187.6" fill="none" stroke="#111" stroke-width="1.4"/>
<polyline points="628.2,181.3 628.2,225.6" fill="none" stroke="#111" stroke-width="0.6"/>
<polyline points="627.1,226.4 646.7,215.7 663.9,201.4 677.9,187.6" fill="none" stroke="#111" stroke-width="0.9"/>
<polyline points="627.1,203.7 646.7,195.1 677.9,178.2" fill="none" stroke="#111" stroke-width="0.8"/>
<polyline points="627.1,205.7 646.7,197 677.9,180.1" fill="none" stroke="#111" stroke-width="0.6"/>
<circle cx="629.4" cy="191.2" r="1.2" fill="#111"/>
<circle cx="647.4" cy="181.8" r="1.2" fill="#111"/>
<circle cx="676.4" cy="164.6" r="1.2" fill="#111"/>
<circle cx="638.1" cy="202.1" r="1.2" fill="#111"/>
<circle cx="662.3" cy="199" r="1.2" fill="#111"/>
<polyline points="598.9,164.6 598.9,174 627.1,188.8" fill="none" stroke="#111" stroke-width="1"/>
<ellipse cx="606" cy="173.5" rx="2.1" ry="2.6" transform="rotate(-20 606 173.5)" fill="none" stroke="#111" stroke-width="1.0"/>
<ellipse cx="611.9" cy="176.6" rx="2.1" ry="2.6" transform="rotate(-20 611.9 176.6)" fill="none" stroke="#111" stroke-width="1.0"/>
<ellipse cx="617.7" cy="180.1" rx="2.1" ry="2.6" transform="rotate(-20 617.7 180.1)" fill="none" stroke="#111" stroke-width="1.0"/>
<polyline points="573.1,181 593.5,172.4 598.9,174.8" fill="none" stroke="#111" stroke-width="1"/>
<polyline points="573.1,181 573.1,192" fill="none" stroke="#111" stroke-width="1.6"/>
<polyline points="573.1,181 593.5,192 615.4,181.8" fill="none" stroke="#111" stroke-width="0.9"/>
<polyline points="593.5,192 593.5,201.4 597.4,204.5" fill="none" stroke="#111" stroke-width="1"/>
<path d="M593.5,192.0 C601.3,185.7 612.2,181.8 616.9,187.3" fill="none" stroke="#111" stroke-width="0.9"/>
<polyline points="616.9,187.3 620.1,189.6 627.1,188.8" fill="none" stroke="#111" stroke-width="0.9"/>
<polyline points="597.4,203.7 626.3,191.2" fill="none" stroke="#111" stroke-width="1.1"/>
<polyline points="597.4,207.6 626.3,195.1" fill="none" stroke="#111" stroke-width="0.6"/>
<polyline points="597.4,212.3 626.3,199.8" fill="none" stroke="#111" stroke-width="1.1"/>
<polyline points="597.4,217 626.3,204.5" fill="none" stroke="#111" stroke-width="0.6"/>
<polyline points="597.4,221.7 626.3,209.2" fill="none" stroke="#111" stroke-width="1.1"/>
<polyline points="597.4,226.4 626.3,213.9" fill="none" stroke="#111" stroke-width="0.6"/>
<polyline points="597.4,230.3 626.3,217.8" fill="none" stroke="#111" stroke-width="1.1"/>
<polyline points="597.4,204.5 597.4,229.5" fill="none" stroke="#111" stroke-width="1.4"/>
<polyline points="625.5,191.2 626.3,218.6" fill="none" stroke="#111" stroke-width="1.2"/>
<polyline points="624,193.5 624,207.6" fill="none" stroke="#111" stroke-width="2"/>
<polyline points="597.4,229.5 627.1,215.4" fill="none" stroke="#111" stroke-width="0.9"/>
<polyline points="595.8,243.6 627.1,227.9" fill="none" stroke="#111" stroke-width="0.8"/>
<polygon points="335.8,322.4 365.5,337.3 351.5,353.7 321.7,337.3" fill="none" stroke="#111" stroke-width="1.4"/>
<polyline points="335.8,322.4 368.7,300.5 396.8,283.3 419.5,270" fill="none" stroke="#111" stroke-width="1.4"/>
<polyline points="368.7,300.5 397.6,315.4 365.5,337.3" fill="none" stroke="#111" stroke-width="1.4"/>
<polyline points="371.8,301.3 396,314.1" fill="none" stroke="#111" stroke-width="1.6"/>
<polyline points="396.8,283.3 425,298.2 397.6,315.4" fill="none" stroke="#111" stroke-width="1.4"/>
<polyline points="400,284.4 419.5,295" fill="none" stroke="#111" stroke-width="1.4"/>
<polyline points="365.5,337.3 397.6,315.4 440,290.3" fill="none" stroke="#111" stroke-width="0.9"/>
<polyline points="373.8,340.4 373.8,374.5" fill="none" stroke="#111" stroke-width="2"/>
<polyline points="377,339.6 377.3,372.5" fill="none" stroke="#111" stroke-width="1.2"/>
<polyline points="373.8,374.5 377.3,372.5" fill="none" stroke="#111" stroke-width="1"/>
<path d="M318.6,343.5 L319.4,352.9 C324.1,360.0 338.2,368.6 349.1,373.3 C356.9,376.4 363.2,377.9 367.9,377.9 L373.8,374.5" fill="none" stroke="#111" stroke-width="0.9"/>
<polyline points="321.7,337.3 318.6,343.5" fill="none" stroke="#111" stroke-width="0.9"/>
<polyline points="321,338.8 364,362.3" fill="none" stroke="#111" stroke-width="1.4"/>
<polyline points="319.4,342.7 361.6,365.7" fill="none" stroke="#111" stroke-width="1.2"/>
<line x1="320.3" y1="340.7" x2="362.9" y2="364.0" stroke="#111" stroke-width="2.4" stroke-dasharray="1 2.4"/>
<polyline points="365.5,337.3 369.4,345.1 371.8,352.9 364,362.3" fill="none" stroke="#111" stroke-width="1"/>
<polyline points="371.8,352.9 373.8,354.5" fill="none" stroke="#111" stroke-width="0.9"/>
<polyline points="321.7,337.3 325.6,329.4 335.8,322.4" fill="none" stroke="#111" stroke-width="0.9"/>
<polyline points="335.8,313 335,306.8 331.9,303.6 337.4,301.3 343.6,297.4 349.1,298.9 352.2,303.6 351.9,310.7" fill="none" stroke="#111" stroke-width="2"/>
<polyline points="337.4,301.3 341.3,308.3 346,307.5 344.4,301.3" fill="none" stroke="#111" stroke-width="1.6"/>
<ellipse cx="386" cy="329.5" rx="3.6" ry="2.6" transform="rotate(-30 386 329.5)" fill="none" stroke="#111" stroke-width="1.8"/>
<polyline points="341.3,308.3 351.9,310.7" fill="none" stroke="#111" stroke-width="0.8"/>
<polyline points="310,327.1 321.7,333.4" fill="none" stroke="#111" stroke-width="1.2"/>
<circle cx="338.2" cy="323.2" r="1.0" fill="#111"/>
<circle cx="352.2" cy="330.2" r="1.0" fill="#111"/>
<circle cx="364" cy="336.5" r="1.0" fill="#111"/>
<circle cx="325.6" cy="336.5" r="1.0" fill="#111"/>
<circle cx="338.2" cy="343.2" r="1.0" fill="#111"/>
<circle cx="351" cy="351.4" r="1.0" fill="#111"/>
<circle cx="363.2" cy="338.8" r="1.0" fill="#111"/>
<circle cx="349.1" cy="331.8" r="1.0" fill="#111"/>
<circle cx="366.3" cy="318.8" r="1.0" fill="#111"/>
<circle cx="370.2" cy="302.1" r="1.0" fill="#111"/>
<circle cx="382.7" cy="307.5" r="1.0" fill="#111"/>
<circle cx="395.3" cy="314.6" r="1.0" fill="#111"/>
<circle cx="378.8" cy="325.5" r="1.0" fill="#111"/>
<circle cx="388.2" cy="319.3" r="1.0" fill="#111"/>
<circle cx="383.5" cy="292.2" r="1.0" fill="#111"/>
<circle cx="395.7" cy="298.9" r="1.0" fill="#111"/>
<circle cx="397.6" cy="284.9" r="1.0" fill="#111"/>
<circle cx="411.7" cy="288.8" r="1.0" fill="#111"/>
<circle cx="425.8" cy="279.7" r="1.0" fill="#111"/>
<polyline points="373,339.5 419,309.8 450.3,289.8 482,271.2 513.9,252.5 545.3,234 577.5,215.8 594,205" fill="none" stroke="#111" stroke-width="2.4"/>
<polyline points="376,340.2 419,312.4 450.3,292.4 482,273.8 513.9,255.1 545.3,236.6 577.5,218.4 594,207.6 596,206.3" fill="none" stroke="#111" stroke-width="0.8"/>
<polyline points="379.0,333.0 419.0,307.2 450.3,287.2 482.0,268.6 513.9,249.9 545.3,231.4 577.5,213.2 592.0,203.7" fill="none" stroke="#222" stroke-width="2.2" stroke-dasharray="2.5 1.5 1 1.5 3 2"/>
<polyline points="417.1,267.2 443.1,283.1" fill="none" stroke="#111" stroke-width="1.5"/>
<polyline points="422.4,264.4 448.9,279.8" fill="none" stroke="#111" stroke-width="1.2"/>
<polyline points="417.1,267.2 422.4,264.4" fill="none" stroke="#111" stroke-width="1"/>
<polyline points="443.1,283.1 448.9,279.8" fill="none" stroke="#111" stroke-width="1"/>
<polyline points="416.6,268.2 442.4,284" fill="none" stroke="#111" stroke-width="0.8"/>
<circle cx="432.8" cy="272.3" r="1.1" fill="#111"/>
<polyline points="415.7,271.6 441.2,285" fill="none" stroke="#111" stroke-width="1.4"/>
<polyline points="425,298.2 441.2,285" fill="none" stroke="#111" stroke-width="0.9"/>
<polyline points="451.9,281.6 564.1,216.1" fill="none" stroke="#111" stroke-width="0.9"/>
<polyline points="448.3,279.5 558.6,214.8" fill="none" stroke="#555" stroke-width="0.7"/>
<polyline points="444.7,277.4 553.1,213.6" fill="none" stroke="#111" stroke-width="0.9"/>
<polyline points="441.1,275.3 547.7,212.3" fill="none" stroke="#555" stroke-width="0.7"/>
<polyline points="437.5,273.2 542.2,211.1" fill="none" stroke="#111" stroke-width="0.9"/>
<polyline points="433.9,271.1 536.7,209.9" fill="none" stroke="#555" stroke-width="0.7"/>
<polyline points="427.3,267.2 488.8,230.8" fill="none" stroke="#111" stroke-width="1"/>
<polyline points="430.3,269 466.9,246.5" fill="none" stroke="#111" stroke-width="0.7"/>
<polyline points="461,254.4 476,267.1" fill="none" stroke="#111" stroke-width="1.7"/>
<polyline points="487.3,238.9 503.5,251" fill="none" stroke="#111" stroke-width="1.7"/>
<polyline points="515,223.3 529.4,235.5" fill="none" stroke="#111" stroke-width="1.7"/>
<polygon points="443.5,256.9 459.9,248.3 463,250.4 446.6,258.8" fill="none" stroke="#111" stroke-width="0.8"/>
<circle cx="445.3" cy="274.8" r="1.0" fill="#111"/>
<circle cx="451.9" cy="275" r="1.0" fill="#111"/>
<circle cx="451.3" cy="266.6" r="1.0" fill="#111"/>
<circle cx="457.9" cy="267.2" r="1.0" fill="#111"/>
<circle cx="464.4" cy="267.7" r="1.0" fill="#111"/>
<circle cx="474" cy="253.3" r="1.0" fill="#111"/>
<circle cx="480.5" cy="253.8" r="1.0" fill="#111"/>
<circle cx="487.1" cy="254.4" r="1.0" fill="#111"/>
<circle cx="488.8" cy="244.6" r="1.0" fill="#111"/>
<circle cx="495.4" cy="245.1" r="1.0" fill="#111"/>
<circle cx="502" cy="245.7" r="1.0" fill="#111"/>
<circle cx="501.4" cy="237.3" r="1.0" fill="#111"/>
<circle cx="507.9" cy="237.8" r="1.0" fill="#111"/>
<circle cx="514.5" cy="238.3" r="1.0" fill="#111"/>
<circle cx="513.9" cy="229.9" r="1.0" fill="#111"/>
<circle cx="520.4" cy="230.4" r="1.0" fill="#111"/>
<circle cx="527" cy="230.9" r="1.0" fill="#111"/>
<circle cx="527.9" cy="221.6" r="1.0" fill="#111"/>
<circle cx="534.5" cy="222.1" r="1.0" fill="#111"/>
<circle cx="541.1" cy="222.7" r="1.0" fill="#111"/>
<polygon points="423.1,215.5 441.1,214.7 441.9,239.7 423.1,239.7" fill="#fff" stroke="#111" stroke-width="1.1"/>
<polyline points="421.6,240.5 421.6,243.6 443.5,243.2 443.5,240" fill="none" stroke="#111" stroke-width="0.9"/>
<polygon points="443.5,214.7 460.7,212.3 466.9,236.6 446.6,239.3" fill="#fff" stroke="#111" stroke-width="1.1"/>
<polyline points="445,240.5 446.6,242.9 468.5,239.7 466.9,236.9" fill="none" stroke="#111" stroke-width="0.9"/>
<polygon points="463,212.3 480.2,210 488.8,231.9 470.1,235" fill="#fff" stroke="#111" stroke-width="1.1"/>
<polyline points="470.1,235.8 488.8,233.2 490.4,235" fill="none" stroke="#111" stroke-width="0.9"/>
<polyline points="441.9,216.3 443.8,216.3" fill="none" stroke="#111" stroke-width="1.2"/>
<polyline points="461,213.4 463.2,213.1" fill="none" stroke="#111" stroke-width="1.2"/>
<polyline points="536.8,199.1 565.7,185" fill="none" stroke="#111" stroke-width="1"/>
<polyline points="536.8,199.1 562.6,215.5" fill="none" stroke="#111" stroke-width="1.2"/>
<polyline points="565.7,185 591.5,201.5" fill="none" stroke="#111" stroke-width="1"/>
<polyline points="562.6,215.5 591.5,201.5" fill="none" stroke="#111" stroke-width="1"/>
<polyline points="542.6,196.3 568.4,212.7" fill="none" stroke="#111" stroke-width="0.9"/>
<polyline points="548.3,193.5 574.2,209.9" fill="none" stroke="#111" stroke-width="0.9"/>
<polyline points="554.1,190.7 579.9,207.1" fill="none" stroke="#111" stroke-width="0.9"/>
<polyline points="559.9,187.8 585.7,204.3" fill="none" stroke="#111" stroke-width="0.9"/>
<circle cx="547.4" cy="202.6" r="1.0" fill="#111"/>
<circle cx="553.2" cy="199.8" r="1.0" fill="#111"/>
<circle cx="559" cy="197" r="1.0" fill="#111"/>
<circle cx="564.8" cy="194.2" r="1.0" fill="#111"/>
<circle cx="570.6" cy="191.4" r="1.0" fill="#111"/>
<polyline points="537.5,195.2 546.9,186.6 573.5,177.2" fill="none" stroke="#111" stroke-width="1.6"/>
<polyline points="543.8,185 551.6,181.9 551.6,186.6" fill="none" stroke="#111" stroke-width="1.4"/>
<polyline points="561,180.3 568.8,183.5 568.8,191.3" fill="none" stroke="#111" stroke-width="1.2"/>
<polyline points="564.1,181.9 564.1,189.7" fill="none" stroke="#111" stroke-width="1"/>
<polyline points="573.5,180.3 593.9,171.7 615.8,183.5" fill="none" stroke="#111" stroke-width="1"/>
<polyline points="573.5,180.3 573.5,191.3 592.3,202.6 593.9,193.6 573.5,180.3" fill="none" stroke="#111" stroke-width="1"/>
<polyline points="593.9,193.6 615.8,183.5" fill="none" stroke="#111" stroke-width="0.9"/>
<polyline points="592.3,202.6 595.4,205.4" fill="none" stroke="#111" stroke-width="1.6"/>
<polyline points="595.4,251.5 609.5,241.4 630,227.3" fill="none" stroke="#111" stroke-width="0.8"/>
<polyline points="595.4,222.6 630,205.4" fill="none" stroke="#111" stroke-width="0.9"/>
<polyline points="595.4,206.9 630,189.7" fill="none" stroke="#111" stroke-width="1.6"/>
<polyline points="597.8,208.5 625.2,193.6" fill="none" stroke="#111" stroke-width="1"/>
<polyline points="597.8,211.6 625.2,196.8" fill="none" stroke="#111" stroke-width="1"/>
<polyline points="597.8,214.8 625.2,199.9" fill="none" stroke="#111" stroke-width="1"/>
<polyline points="597.8,217.9 625.2,203" fill="none" stroke="#111" stroke-width="1"/>
<polyline points="375.5,349.5 419,325.3 450.3,308.7 482,290 513.9,271.1 545.3,252.5 577.5,234.7 596.3,223.7" fill="none" stroke="#111" stroke-width="1.3"/>
<polyline points="375.5,351.5 419,327.3 450.3,310.7 482,292 513.9,273.1 545.3,254.5 577.5,236.7 596.3,225.7" fill="none" stroke="#111" stroke-width="0.7"/>
<polyline points="375.5,370 419,345 450.3,327.5 482,308.8 513.9,290 545.3,271.5 577.5,252.5 596.3,243.9" fill="none" stroke="#111" stroke-width="0.9"/>
<polyline points="419,308.8 419,356.8" fill="none" stroke="#111" stroke-width="1.4"/>
<polyline points="420.3,309.8 420.3,355.8" fill="none" stroke="#111" stroke-width="0.5"/>
<polyline points="417,313.3 421.2,312" fill="none" stroke="#111" stroke-width="2.2"/>
<polyline points="417.5,346 420.5,345" fill="none" stroke="#111" stroke-width="1.6"/>
<polyline points="450.3,288.8 450.3,339.6" fill="none" stroke="#111" stroke-width="1.4"/>
<polyline points="451.6,289.8 451.6,338.6" fill="none" stroke="#111" stroke-width="0.5"/>
<polyline points="448.3,293.3 452.5,292" fill="none" stroke="#111" stroke-width="2.2"/>
<polyline points="448.8,328.5 451.8,327.5" fill="none" stroke="#111" stroke-width="1.6"/>
<polyline points="482,270.2 482,321.6" fill="none" stroke="#111" stroke-width="1.4"/>
<polyline points="483.3,271.2 483.3,320.6" fill="none" stroke="#111" stroke-width="0.5"/>
<polyline points="480,274.7 484.2,273.4" fill="none" stroke="#111" stroke-width="2.2"/>
<polyline points="480.5,309.8 483.5,308.8" fill="none" stroke="#111" stroke-width="1.6"/>
<polyline points="513.9,251.5 513.9,303.9" fill="none" stroke="#111" stroke-width="1.4"/>
<polyline points="515.2,252.5 515.2,302.9" fill="none" stroke="#111" stroke-width="0.5"/>
<polyline points="511.9,256 516.1,254.7" fill="none" stroke="#111" stroke-width="2.2"/>
<polyline points="512.4,291 515.4,290" fill="none" stroke="#111" stroke-width="1.6"/>
<polyline points="545.3,233 545.3,283.5" fill="none" stroke="#111" stroke-width="1.4"/>
<polyline points="546.6,234 546.6,282.5" fill="none" stroke="#111" stroke-width="0.5"/>
<polyline points="543.3,237.5 547.5,236.2" fill="none" stroke="#111" stroke-width="2.2"/>
<polyline points="543.8,272.5 546.8,271.5" fill="none" stroke="#111" stroke-width="1.6"/>
<polyline points="577.5,214.8 577.5,263" fill="none" stroke="#111" stroke-width="1.4"/>
<polyline points="578.8,215.8 578.8,262" fill="none" stroke="#111" stroke-width="0.5"/>
<polyline points="575.5,219.3 579.7,218" fill="none" stroke="#111" stroke-width="2.2"/>
<polyline points="576,253.5 579,252.5" fill="none" stroke="#111" stroke-width="1.6"/>
<polyline points="596.3,202.5 596.3,248.5" fill="none" stroke="#111" stroke-width="1.4"/>
<polyline points="597.6,203.5 597.6,247.5" fill="none" stroke="#111" stroke-width="0.5"/>
<polyline points="594.3,207 598.5,205.7" fill="none" stroke="#111" stroke-width="2.2"/>
<polyline points="594.8,244.9 597.8,243.9" fill="none" stroke="#111" stroke-width="1.6"/>
<polyline points="377,374 399,364 419,356.8" fill="none" stroke="#111" stroke-width="0.8"/>
<polyline points="419,355.3 435,351.3 444.5,343.5 450.3,339.6" fill="none" stroke="#111" stroke-width="0.8"/>
<polyline points="450.3,338 466.4,334.1 475.8,326.3 482,321.6" fill="none" stroke="#111" stroke-width="0.8"/>
<polyline points="482,320 497,316 506,309 513.9,303.9" fill="none" stroke="#111" stroke-width="0.8"/>
<polyline points="513.9,301.5 529.5,298.4 539,289.8 545.3,283.5" fill="none" stroke="#111" stroke-width="0.8"/>
<polyline points="545.3,283.6 559.5,279.5 570,268.5 577.5,263" fill="none" stroke="#111" stroke-width="0.8"/>
<polyline points="577.5,263 596.3,248.5 609.5,240 627.1,226.4" fill="none" stroke="#111" stroke-width="0.8"/>
<circle cx="397.2" cy="337.1" r="1.0" fill="#111"/>
<circle cx="397.2" cy="357.5" r="1.0" fill="#111"/>
<circle cx="397.2" cy="327" r="0.9" fill="#111"/>
<circle cx="434.6" cy="316.7" r="1.0" fill="#111"/>
<circle cx="434.6" cy="336.2" r="1.0" fill="#111"/>
<circle cx="434.6" cy="303" r="0.9" fill="#111"/>
<circle cx="466.1" cy="299.1" r="1.0" fill="#111"/>
<circle cx="466.1" cy="318.1" r="1.0" fill="#111"/>
<circle cx="466.1" cy="283.7" r="0.9" fill="#111"/>
<circle cx="497.9" cy="280.2" r="1.0" fill="#111"/>
<circle cx="497.9" cy="299.4" r="1.0" fill="#111"/>
<circle cx="497.9" cy="265.1" r="0.9" fill="#111"/>
<circle cx="529.6" cy="261.5" r="1.0" fill="#111"/>
<circle cx="529.6" cy="280.8" r="1.0" fill="#111"/>
<circle cx="529.6" cy="246.5" r="0.9" fill="#111"/>
<circle cx="561.4" cy="243.3" r="1.0" fill="#111"/>
<circle cx="561.4" cy="262" r="1.0" fill="#111"/>
<circle cx="561.4" cy="228.1" r="0.9" fill="#111"/>
<circle cx="586.9" cy="228.9" r="1.0" fill="#111"/>
<circle cx="586.9" cy="248.2" r="1.0" fill="#111"/>
<circle cx="586.9" cy="212.8" r="0.9" fill="#111"/>
<polyline points="595.4,222.6 630,205.4" fill="none" stroke="#111" stroke-width="0.9"/>
<polyline points="595.4,206.9 630,189.7" fill="none" stroke="#111" stroke-width="1.6"/>
<path d="M506.3,130.0 C512.6,137.8 515.4,148.8 514.5,161.3 C513.4,173.8 508.7,184.8 504.0,194.1" fill="none" stroke="#111" stroke-width="0.9"/>
<polygon points="522,151.9 531.4,148.8 541.1,157.4 540.1,174.6 535.7,179.7 535.3,195.7 531.4,203.5 530.6,214.5 525.9,221.5 518.8,221.5 510.2,218.4 508.7,195.7" fill="#fff" stroke="#fff" stroke-width="0.1"/>
<path d="M522.0,151.9 Q531.4,147.2 541.1,157.4" fill="none" stroke="#111" stroke-width="1.0"/>
<path d="M519.6,163.6 Q531.4,160.5 539.8,168.3" fill="none" stroke="#111" stroke-width="1.0"/>
<path d="M516.5,175.4 Q528.2,172.2 535.7,179.7" fill="none" stroke="#111" stroke-width="1.0"/>
<path d="M511.8,186.3 Q523.5,184.0 532.1,191.8" fill="none" stroke="#111" stroke-width="1.0"/>
<path d="M508.7,195.7 Q518.8,193.4 526.7,200.4" fill="none" stroke="#111" stroke-width="1.0"/>
<polyline points="541.1,157.4 540.1,174.6 535.7,179.7 535.3,195.7 532.1,191.8" fill="none" stroke="#111" stroke-width="1"/>
<polyline points="535.3,195.7 531.4,203.5 526.7,200.4" fill="none" stroke="#111" stroke-width="0.9"/>
<polyline points="526.7,200.4 525.9,221.5 518.8,221.5 510.2,218.4 508.7,195.7" fill="none" stroke="#111" stroke-width="1"/>
<polyline points="531.4,203.5 530.6,214.5 525.9,221.5" fill="none" stroke="#111" stroke-width="0.9"/>
<polyline points="522,151.9 508.7,195.7" fill="none" stroke="#111" stroke-width="2"/>
<polyline points="519.6,151.1 506.3,192.6" fill="none" stroke="#111" stroke-width="0.8"/>
<circle cx="519.6" cy="159.7" r="1.5" fill="#111"/>
<circle cx="516.5" cy="169.1" r="1.5" fill="#111"/>
<circle cx="513.4" cy="179.3" r="1.5" fill="#111"/>
<circle cx="510.2" cy="187.9" r="1.5" fill="#111"/>
<circle cx="507.1" cy="198.8" r="1.5" fill="#111"/>
<ellipse cx="484.7" cy="193.4" rx="3.4" ry="3.6" transform="rotate(0 484.7 193.4)" fill="#fff" stroke="#111" stroke-width="1.2"/>
<ellipse cx="490.4" cy="197" rx="3.4" ry="3.6" transform="rotate(0 490.4 197)" fill="#fff" stroke="#111" stroke-width="1.2"/>
<ellipse cx="496.5" cy="200.7" rx="3.4" ry="3.6" transform="rotate(0 496.5 200.7)" fill="#fff" stroke="#111" stroke-width="1.2"/>
<ellipse cx="502.3" cy="204" rx="3.4" ry="3.6" transform="rotate(0 502.3 204)" fill="#fff" stroke="#111" stroke-width="1.2"/>
<ellipse cx="488.3" cy="206.7" rx="3.4" ry="3.6" transform="rotate(0 488.3 206.7)" fill="#fff" stroke="#111" stroke-width="1.2"/>
<ellipse cx="494.3" cy="210.3" rx="3.4" ry="3.6" transform="rotate(0 494.3 210.3)" fill="#fff" stroke="#111" stroke-width="1.2"/>
<ellipse cx="500.1" cy="213.7" rx="3.4" ry="3.6" transform="rotate(0 500.1 213.7)" fill="#fff" stroke="#111" stroke-width="1.2"/>
<ellipse cx="506" cy="216.8" rx="3.4" ry="3.6" transform="rotate(0 506 216.8)" fill="#fff" stroke="#111" stroke-width="1.2"/>
<ellipse cx="489.9" cy="219.5" rx="3.4" ry="3.6" transform="rotate(0 489.9 219.5)" fill="#fff" stroke="#111" stroke-width="1.2"/>
<ellipse cx="495.7" cy="223.1" rx="3.4" ry="3.6" transform="rotate(0 495.7 223.1)" fill="#fff" stroke="#111" stroke-width="1.2"/>
<ellipse cx="501.6" cy="225.7" rx="3.4" ry="3.6" transform="rotate(0 501.6 225.7)" fill="#fff" stroke="#111" stroke-width="1.2"/>
<polyline points="496.9,195.7 504,199.6 511,211.4 512.6,217.6" fill="none" stroke="#111" stroke-width="1.6"/>
<polyline points="509.4,223.9 504.8,230.1 501.6,231.7" fill="none" stroke="#111" stroke-width="1.2"/>
<polygon points="462.5,212.1 479.7,208.2 488.3,231.7 470.3,237.2" fill="none" stroke="#111" stroke-width="1"/>
<polyline points="461.7,213.7 468.8,236.4 470.3,237.2" fill="none" stroke="#111" stroke-width="1"/>
<polyline points="450,214.5 461.7,212.9" fill="none" stroke="#111" stroke-width="0.9"/>
<polyline points="450,239.5 470.3,237.9 489.1,233.3 493.8,236.4" fill="none" stroke="#111" stroke-width="1"/>
<polyline points="450,241.9 471.9,240.3 492.2,237.9" fill="none" stroke="#111" stroke-width="0.7"/>
<path d="M384.6,150.0 Q385.4,159.4 389.3,164.1 Q393.2,168.8 400.2,173.1 Q407.3,177.4 414.3,180.1 Q421.4,182.9 429.2,185.0 Q437.0,187.1 443.3,187.3 Q449.5,187.5 458.9,186.0" fill="none" stroke="#111" stroke-width="1.0"/>
<path d="M382.2,162.5 Q391.6,171.9 398.7,176.2 Q405.7,180.5 415.1,183.6" fill="none" stroke="#111" stroke-width="0.8"/>
<polyline points="432.3,186.3 446.4,187.5 458.9,186.5" fill="none" stroke="#111" stroke-width="2"/>
<path d="M383.0,150.0 Q382.6,161.0 380.4,166.4 Q378.3,171.9 375.6,177.4 Q372.9,182.9 366.6,187.5" fill="none" stroke="#111" stroke-width="0.9"/>
<polyline points="372.9,182.9 397.9,196.2" fill="none" stroke="#111" stroke-width="0.9"/>
<path d="M366.6,187.5 Q359.6,195.4 357.6,199.3 Q355.6,203.2 354.9,205.5" fill="none" stroke="#111" stroke-width="0.9"/>
<polyline points="397.9,196.2 415.1,183.6" fill="none" stroke="#111" stroke-width="0.9"/>
<polyline points="397.9,196.2 405.7,202.4 406.5,212.6 409.6,215.7" fill="none" stroke="#111" stroke-width="0.9"/>
<path d="M405.7,202.4 Q429.2,200.8 436.2,198.9 Q443.3,196.9 458.9,187.5" fill="none" stroke="#111" stroke-width="0.9"/>
<polyline points="409.6,215.7 421.4,209.4 449.5,195.4 463.6,188.3" fill="none" stroke="#111" stroke-width="0.8"/>
<path d="M397.9,196.2 Q391.6,201.6 388.5,206.3 Q385.4,211.0 381.5,222.0" fill="none" stroke="#111" stroke-width="0.9"/>
<path d="M395.5,199.3 Q390.1,204.8 387.3,209.4 Q384.6,214.1 381.9,223.5" fill="none" stroke="#111" stroke-width="0.7"/>
<polyline points="381.5,222 378.3,225.1 375.2,228.2" fill="none" stroke="#111" stroke-width="0.9"/>
<polyline points="354.9,205.5 353.3,207.1 353.3,217.3" fill="none" stroke="#111" stroke-width="0.9"/>
<polyline points="353.3,207.1 369.7,215.7 369.7,229.8" fill="none" stroke="#111" stroke-width="0.9"/>
<polyline points="369.7,215.7 380.7,210.2 391.6,201.6" fill="none" stroke="#111" stroke-width="0.9"/>
<polyline points="340,204 346.3,204.8 353.3,212.6" fill="none" stroke="#111" stroke-width="0.8"/>
<polygon points="385.4,223.5 394.8,216.5 401.8,221.2 392.4,228.2" fill="none" stroke="#111" stroke-width="0.9"/>
<polyline points="378.3,225.1 385.4,223.5" fill="none" stroke="#111" stroke-width="0.9"/>
<polyline points="377.5,227.4 391.6,234.5 397.9,235.3" fill="none" stroke="#111" stroke-width="1.2"/>
<polyline points="392.4,228.2 391.6,232.1 398.7,233.7" fill="none" stroke="#111" stroke-width="0.9"/>
<polygon points="402.6,219.6 420.6,222.7 416.7,239.2 398.7,237.6" fill="#fff" stroke="#111" stroke-width="1.1"/>
<polygon points="397.1,239.2 417.4,242.3 418.2,243.9 396.3,240.7" fill="none" stroke="#111" stroke-width="0.9"/>
<polyline points="420.6,222.7 421.4,225.1 418.2,240" fill="none" stroke="#111" stroke-width="0.9"/>
<polygon points="423.7,214.9 440.9,214.9 441.7,240 423.7,240" fill="#fff" stroke="#111" stroke-width="1.1"/>
<polyline points="422.1,240.7 422.1,243.9 443.3,243.9 443.3,240.7" fill="none" stroke="#111" stroke-width="0.9"/>
<polyline points="425.3,239.2 440.9,239.2" fill="none" stroke="#111" stroke-width="0.6"/>
<polygon points="443.3,214.1 460.5,212.6 465.2,237.6 446.4,240" fill="#fff" stroke="#111" stroke-width="1.1"/>
<polyline points="444.8,241.1 446.4,243.6 466.7,240.7 465.9,238.4" fill="none" stroke="#111" stroke-width="0.9"/>
<polyline points="442,215.7 443.6,215.7" fill="none" stroke="#111" stroke-width="1.2"/>
<polyline points="462,212.6 470,211.8" fill="none" stroke="#111" stroke-width="1"/>
<polyline points="462,212.6 470,234.5" fill="none" stroke="#111" stroke-width="1.4"/>
<polyline points="368.9,251.7 404.9,273.6" fill="none" stroke="#111" stroke-width="0.8"/>
<polyline points="239.4,278.9 262.2,264.6" fill="none" stroke="#111" stroke-width="0.7"/>
<polyline points="242.8,280.4 264.3,266.8" fill="none" stroke="#111" stroke-width="0.7"/>
<polyline points="248.3,279.6 265.5,269.1" fill="none" stroke="#111" stroke-width="0.6"/>
<polyline points="234.8,290.5 235.2,284.7 240.3,277.5 244.1,277.9 248.7,280.3" fill="none" stroke="#111" stroke-width="1"/>
<polyline points="237.1,288.7 241.8,282.1 244.7,282.3" fill="none" stroke="#111" stroke-width="0.9"/>
<polyline points="239.6,285.9 243,282.5" fill="none" stroke="#111" stroke-width="2.4"/>
<polyline points="244.1,282.1 246.6,280.9" fill="none" stroke="#111" stroke-width="2"/>
<polyline points="262.2,253.9 263,261.1 265.5,265.3 266,272.4" fill="none" stroke="#111" stroke-width="1.6"/>
<polyline points="258.8,254.7 265.5,253.5 268.5,252.6" fill="none" stroke="#111" stroke-width="1.4"/>
<text transform="translate(392.5 69) skewX(-15)" font-size="20" fill="#2a2a2a" text-anchor="middle" textLength="10.5" lengthAdjust="spacingAndGlyphs">A</text>
<polyline points="403.6,55 403.6,80" fill="none" stroke="#222" stroke-width="1"/>
<polygon points="402,69 405.2,69 403.6,83" fill="#222" stroke="#222" stroke-width="0.8"/>
<text transform="translate(523 44) skewX(-15)" font-size="21" fill="#2a2a2a" text-anchor="middle" textLength="9" lengthAdjust="spacingAndGlyphs">4</text>
<polyline points="517.5,45 505.5,60.5" fill="none" stroke="#333" stroke-width="0.8"/>
<text transform="translate(295 130) skewX(-15)" font-size="21" fill="#2a2a2a" text-anchor="middle" textLength="9" lengthAdjust="spacingAndGlyphs">6</text>
<polyline points="298,134 304.5,169" fill="none" stroke="#333" stroke-width="0.8"/>
<text transform="translate(174 193) skewX(-15)" font-size="21" fill="#2a2a2a" text-anchor="middle" textLength="9" lengthAdjust="spacingAndGlyphs">8</text>
<polyline points="183,193.5 222.5,240" fill="none" stroke="#333" stroke-width="0.8"/>
<text transform="translate(585 316) skewX(-15)" font-size="21" fill="#2a2a2a" text-anchor="middle" textLength="9" lengthAdjust="spacingAndGlyphs">5</text>
<polyline points="558.7,225 583,297" fill="none" stroke="#333" stroke-width="0.8"/>
<text transform="translate(487 372) skewX(-15)" font-size="21" fill="#2a2a2a" text-anchor="middle" textLength="9" lengthAdjust="spacingAndGlyphs">7</text>
<polyline points="460.7,287.4 486.5,352" fill="none" stroke="#333" stroke-width="0.8"/>
<text transform="translate(415 405) skewX(-15)" font-size="21" fill="#2a2a2a" text-anchor="middle" textLength="9" lengthAdjust="spacingAndGlyphs">9</text>
<polyline points="368.7,325.5 413.5,391" fill="none" stroke="#333" stroke-width="0.8"/>
<text transform="translate(254 412) skewX(-15)" font-size="21" fill="#2a2a2a" text-anchor="middle" textLength="7" lengthAdjust="spacingAndGlyphs">1</text>
<polyline points="299.3,307.4 261,393" fill="none" stroke="#333" stroke-width="0.8"/>
<text transform="translate(421.5 457) skewX(-15)" font-size="17" fill="#2a2a2a" text-anchor="middle" textLength="49" lengthAdjust="spacingAndGlyphs">Фиг. 1</text>
<text transform="translate(418 508) skewX(-15)" font-size="26" fill="#2a2a2a" text-anchor="middle" textLength="14" lengthAdjust="spacingAndGlyphs">A</text>
<text transform="translate(448 546) skewX(-15)" font-size="22" fill="#2a2a2a" text-anchor="middle" textLength="10" lengthAdjust="spacingAndGlyphs">2</text>
<polyline points="444.5,551 436,598" fill="none" stroke="#333" stroke-width="0.8"/>
<text transform="translate(652.5 545) skewX(-15)" font-size="22" fill="#2a2a2a" text-anchor="middle" textLength="19" lengthAdjust="spacingAndGlyphs">21</text>
<polyline points="654,547 644,575" fill="none" stroke="#333" stroke-width="0.8"/>
<polyline points="654,547 677,600" fill="none" stroke="#333" stroke-width="0.8"/>
<text transform="translate(198 751) skewX(-15)" font-size="22" fill="#2a2a2a" text-anchor="middle" textLength="19" lengthAdjust="spacingAndGlyphs">10</text>
<polyline points="203.5,731 227,683" fill="none" stroke="#333" stroke-width="0.8"/>
<text transform="translate(299 751) skewX(-15)" font-size="22" fill="#2a2a2a" text-anchor="middle" textLength="16" lengthAdjust="spacingAndGlyphs">11</text>
<polyline points="299,731 275.5,685" fill="none" stroke="#333" stroke-width="0.8"/>
<text transform="translate(352.5 751) skewX(-15)" font-size="22" fill="#2a2a2a" text-anchor="middle" textLength="10" lengthAdjust="spacingAndGlyphs">3</text>
<polyline points="357,731 374,657" fill="none" stroke="#333" stroke-width="0.8"/>
<text transform="translate(427.5 751) skewX(-15)" font-size="22" fill="#2a2a2a" text-anchor="middle" textLength="19" lengthAdjust="spacingAndGlyphs">13</text>
<polyline points="433,731 463,668" fill="none" stroke="#333" stroke-width="0.8"/>
<text transform="translate(530.5 751) skewX(-15)" font-size="22" fill="#2a2a2a" text-anchor="middle" textLength="18" lengthAdjust="spacingAndGlyphs">12</text>
<polyline points="530,731 491,657" fill="none" stroke="#333" stroke-width="0.8"/>
<text transform="translate(414 796) skewX(-15)" font-size="17" fill="#2a2a2a" text-anchor="middle" textLength="49" lengthAdjust="spacingAndGlyphs">Фиг. 2</text>
</svg>
</body></html>
